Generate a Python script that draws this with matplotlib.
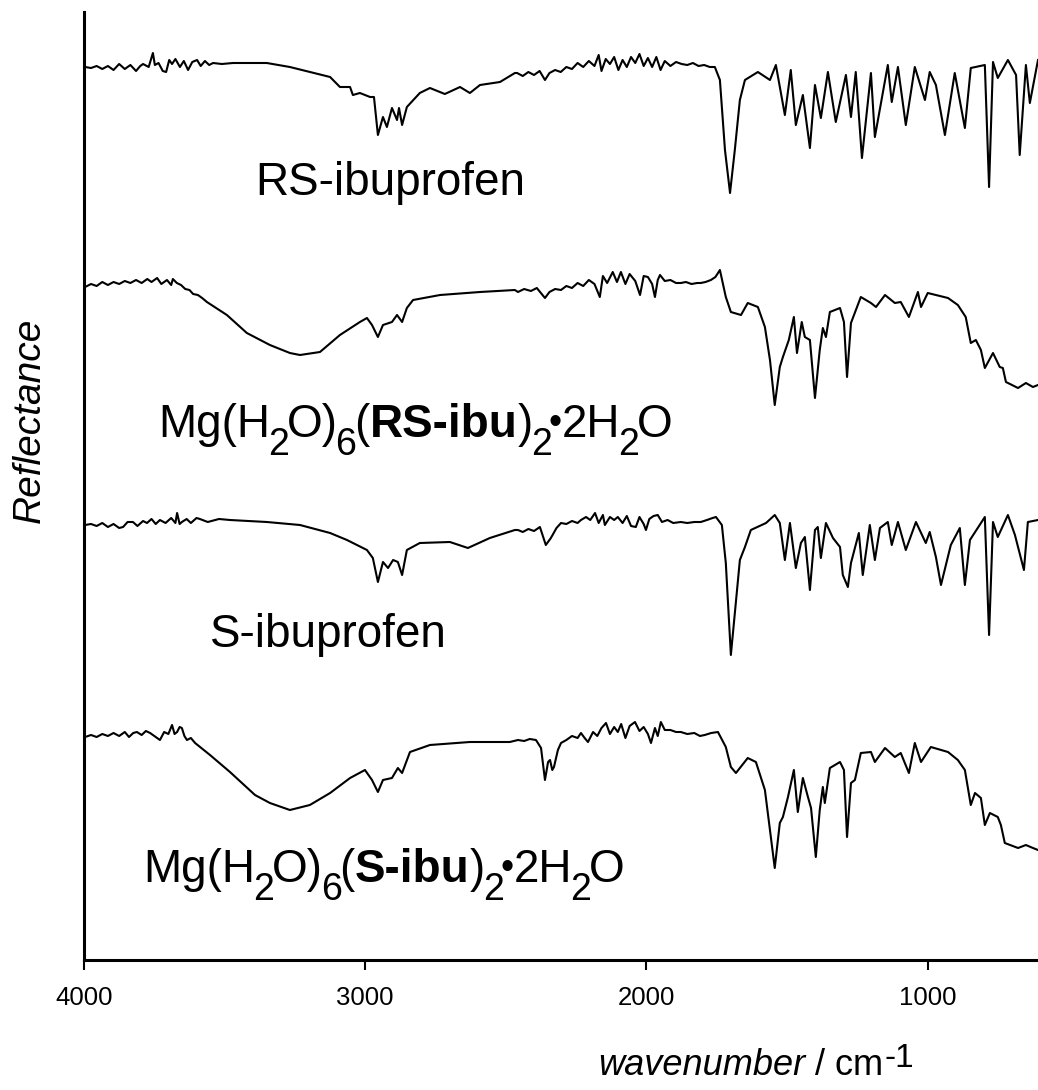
import matplotlib
matplotlib.use("Agg")
import matplotlib.pyplot as plt

plt.rcParams['font.family'] = ['Liberation Sans', 'DejaVu Sans']

# ---------------- data (wavenumber / cm-1, reflectance a.u. with vertical offsets) -------------
rs_ibu_wn = [3996, 3975, 3955, 3935, 3915, 3895, 3875, 3855, 3835, 3815, 3800, 3790, 3770, 3755,
             3748, 3735, 3720, 3708, 3697, 3687, 3675, 3659, 3645, 3630, 3615, 3598, 3585, 3570,
             3555, 3541, 3510, 3470, 3350, 3268, 3197, 3125, 3090, 3054, 3044, 3019, 2983, 2969,
             2955, 2937, 2923, 2905, 2887, 2880, 2869, 2852, 2806, 2770, 2717, 2663, 2628, 2592,
             2521, 2468, 2460, 2440, 2420, 2400, 2380, 2361, 2345, 2325, 2305, 2285, 2265, 2245,
             2225, 2205, 2185, 2170, 2160, 2145, 2130, 2115, 2100, 2085, 2070, 2055, 2040, 2025,
             2010, 1995, 1980, 1965, 1950, 1935, 1915, 1895, 1875, 1855, 1835, 1815, 1795, 1775,
             1757, 1739, 1721, 1703, 1686, 1668, 1650, 1604, 1561, 1540, 1508, 1487,
             1469, 1444, 1419, 1401, 1380, 1355, 1327, 1291, 1273, 1256, 1234, 1202, 1188, 1142,
             1128, 1106, 1078, 1046, 1010, 993, 971, 939, 904, 868, 847, 797, 782, 768, 751, 715,
             686, 673, 651, 637, 608]
rs_ibu_r = [893, 892, 894, 891, 894, 890, 896, 891, 895, 889, 894, 896, 893, 907,
            895, 897, 889, 888, 900, 896, 901, 893, 899, 890, 898, 900, 894, 899,
            895, 897, 896, 897, 897, 893, 888, 883, 873, 873, 865, 867, 863, 863,
            825, 843, 833, 852, 840, 852, 835, 853, 867, 872, 866, 873, 867, 875,
            878, 887, 887, 884, 888, 885, 889, 880, 887, 890, 888, 893, 891, 897,
            893, 899, 894, 905, 889, 901, 896, 903, 890, 900, 893, 903, 897, 906,
            894, 902, 893, 903, 890, 899, 894, 898, 896, 895, 897, 894, 895, 893,
            893, 880, 810, 767, 810, 860, 880, 888, 880, 895, 845, 890,
            835, 865, 812, 875, 842, 888, 838, 885, 843, 888, 802, 887, 823, 895,
            858, 893, 835, 893, 860, 888, 875, 825, 887, 832, 892, 895, 773, 898, 882, 900,
            885, 805, 895, 857, 900]

mg_rs_wn = [3996, 3975, 3955, 3935, 3915, 3895, 3875, 3855, 3835, 3815, 3795, 3775, 3760, 3740,
            3725, 3705, 3690, 3684, 3670, 3655, 3640, 3625, 3612, 3595, 3580, 3563, 3492, 3421,
            3339, 3268, 3232, 3161, 3090, 3019, 2994, 2976, 2955, 2937, 2905, 2887, 2869, 2852,
            2830, 2734, 2592, 2468, 2457, 2435, 2411, 2390, 2361, 2345, 2325, 2304, 2285, 2265,
            2245, 2225, 2205, 2185, 2166, 2155, 2140, 2120, 2105, 2091, 2075, 2060, 2040, 2023,
            2010, 1995, 1980, 1970, 1960, 1952, 1935, 1915, 1895, 1878, 1860, 1840, 1820, 1807,
            1790, 1771, 1755, 1739, 1718, 1700, 1664, 1640, 1604, 1579, 1561, 1544, 1526,
            1515, 1494, 1476, 1465, 1448, 1437, 1419, 1401, 1384, 1373, 1362, 1348, 1312, 1298,
            1287, 1273, 1238, 1202, 1184, 1152, 1117, 1096, 1067, 1035, 1024, 1000, 928, 893,
            865, 847, 829, 811, 797, 768, 744, 733, 722, 679, 651, 626, 608]
mg_rs_r = [673, 676, 674, 678, 675, 678, 676, 679, 677, 680, 677, 681, 678, 682,
           676, 680, 675, 681, 677, 675, 671, 670, 666, 665, 662, 658, 645, 627,
           615, 607, 605, 608, 625, 638, 642, 635, 623, 635, 638, 645, 638, 652,
           660, 665, 668, 670, 668, 671, 669, 672, 662, 668, 671, 670, 674, 672,
           677, 674, 680, 676, 663, 684, 677, 688, 678, 688, 676, 686, 679, 665,
           684, 683, 676, 663, 680, 685, 679, 680, 677, 677, 678, 676, 677, 677,
           678, 680, 683, 690, 663, 648, 645, 657, 653, 633, 600, 555, 593,
           603, 620, 643, 607, 638, 623, 620, 562, 610, 632, 623, 648, 652, 638,
           583, 637, 663, 657, 653, 665, 657, 658, 643, 668, 653, 667, 662, 655,
           643, 617, 620, 610, 592, 607, 593, 592, 578, 572, 577, 573, 575]

s_ibu_wn = [3996, 3975, 3955, 3935, 3915, 3895, 3875, 3861, 3845, 3826, 3810, 3790, 3776, 3760,
            3745, 3730, 3710, 3690, 3675, 3669, 3660, 3652, 3635, 3620, 3600, 3588, 3560, 3520,
            3481, 3350, 3232, 3125, 3065, 2994, 2973, 2955, 2937, 2919, 2901, 2884, 2869, 2852,
            2806, 2699, 2635, 2557, 2468, 2457, 2440, 2420, 2400, 2379, 2358, 2340, 2320, 2304,
            2285, 2265, 2245, 2233, 2215, 2200, 2183, 2170, 2155, 2148, 2130, 2115, 2102, 2085,
            2070, 2055, 2038, 2025, 2010, 2002, 1990, 1975, 1960, 1945, 1925, 1905, 1878, 1855,
            1830, 1807, 1785, 1765, 1753, 1732, 1718, 1700, 1686, 1668, 1650, 1629, 1575, 1544,
            1526, 1508, 1490, 1469, 1451, 1437, 1419, 1401, 1391, 1380, 1362, 1337, 1312, 1302,
            1284, 1273, 1245, 1231, 1206, 1188, 1170, 1142, 1128, 1106, 1078, 1042, 1007, 993,
            971, 953, 918, 886, 868, 850, 797, 782, 768, 751, 715, 690, 658, 644, 608]
s_ibu_r = [435, 436, 434, 437, 433, 436, 432, 433, 438, 438, 434, 439, 437, 441,
           436, 440, 437, 442, 437, 447, 436, 438, 441, 437, 442, 441, 438, 441,
           440, 438, 435, 427, 420, 410, 402, 378, 398, 392, 400, 398, 385, 410,
           417, 418, 412, 422, 430, 430, 428, 431, 429, 433, 415, 422, 432, 437,
           436, 439, 437, 440, 443, 440, 447, 437, 445, 435, 443, 440, 443, 437,
           444, 434, 433, 443, 436, 430, 441, 444, 445, 438, 440, 437, 438, 437,
           438, 438, 440, 442, 443, 435, 397, 305, 347, 400, 413, 430, 437, 445,
           437, 400, 437, 392, 417, 423, 370, 430, 433, 402, 437, 422, 413, 385,
           373, 397, 427, 385, 435, 400, 432, 438, 415, 438, 410, 438, 417, 428,
           403, 375, 415, 432, 375, 420, 443, 325, 438, 423, 445, 425, 390, 438, 440]

mg_s_wn = [3996, 3975, 3955, 3935, 3915, 3895, 3875, 3855, 3840, 3825, 3812, 3795, 3780, 3765,
           3750, 3730, 3715, 3700, 3687, 3678, 3669, 3660, 3652, 3643, 3634, 3620, 3605, 3552,
           3481, 3392, 3339, 3268, 3197, 3125, 3054, 3001, 2976, 2955, 2937, 2905, 2884, 2869,
           2841, 2770, 2628, 2486, 2457, 2435, 2415, 2393, 2375, 2361, 2350, 2343, 2335, 2329,
           2315, 2304, 2285, 2265, 2245, 2233, 2220, 2208, 2190, 2175, 2160, 2144, 2130, 2115,
           2102, 2090, 2075, 2060, 2041, 2025, 2010, 1995, 1984, 1970, 1960, 1949, 1935, 1915,
           1895, 1878, 1855, 1830, 1810, 1793, 1770, 1746, 1718, 1700, 1682, 1640, 1611, 1579,
           1561, 1544, 1526, 1515, 1497, 1476, 1462, 1444, 1426, 1415, 1398, 1384, 1373, 1366,
           1348, 1312, 1298, 1287, 1273, 1259, 1238, 1202, 1188, 1152, 1117, 1096, 1067, 1046,
           1024, 989, 928, 893, 868, 847, 832, 811, 797, 779, 751, 740, 726, 679, 651, 626, 608]
mg_s_r = [223, 225, 223, 226, 224, 227, 224, 228, 223, 227, 228, 225, 229, 227,
          224, 220, 228, 226, 235, 226, 228, 233, 232, 224, 220, 222, 217, 205,
          188, 165, 157, 150, 155, 167, 182, 190, 180, 168, 180, 182, 192, 187,
          208, 215, 218, 218, 220, 219, 221, 220, 212, 180, 198, 200, 190, 193,
          210, 217, 220, 224, 222, 227, 222, 218, 228, 224, 232, 237, 226, 233,
          228, 236, 222, 234, 238, 229, 233, 226, 217, 232, 224, 238, 230, 230,
          228, 228, 226, 227, 224, 225, 227, 228, 213, 193, 187, 202, 198, 170,
          130, 92, 137, 143, 163, 190, 148, 182, 163, 152, 103, 150, 173, 157,
          192, 198, 190, 123, 177, 180, 207, 208, 198, 212, 203, 207, 187, 217,
          198, 213, 208, 200, 190, 155, 167, 162, 135, 147, 143, 135, 117, 112, 115, 112, 110]

xticks = [4000, 3000, 2000, 1000]
xtick_labels = ['4000', '3000', '2000', '1000']

# label pieces: (text, kind): 'n' normal, 'b' bold, 's' subscript, 'd' dot, 'a' normal after subscript
label_rs_ibu = [('RS-ibuprofen', 'n')]
label_mg_rs = [('Mg(H', 'n'), ('2', 's'), ('O)', 'a'), ('6', 's'), ('(', 'a'), ('RS-ibu', 'b'),
               (')', 'n'), ('2', 's'), ('•', 'd'), ('2H', 'n'), ('2', 's'), ('O', 'a')]
label_s_ibu = [('S-ibuprofen', 'n')]
label_mg_s = [('Mg(H', 'n'), ('2', 's'), ('O)', 'a'), ('6', 's'), ('(', 'a'), ('S-ibu', 'b'),
              (')', 'n'), ('2', 's'), ('•', 'd'), ('2H', 'n'), ('2', 's'), ('O', 'a')]

# ---------------- figure ----------------
fig = plt.figure(figsize=(10.38, 10.90), dpi=100)
ax = fig.add_axes([84 / 1038, 130 / 1090, 1 - 84 / 1038, 948 / 1090])

for wn, r in [(rs_ibu_wn, rs_ibu_r), (mg_rs_wn, mg_rs_r), (s_ibu_wn, s_ibu_r), (mg_s_wn, mg_s_r)]:
    ax.plot(wn, r, color='black', lw=1.5)

ax.set_xlim(4000, 608)
ax.set_ylim(0, 948)

for s in ['top', 'right']:
    ax.spines[s].set_visible(False)
for s in ['left', 'bottom']:
    ax.spines[s].set_linewidth(2.2)

ax.set_yticks([])
ax.set_xticks(xticks)
ax.set_xticklabels(xtick_labels)
ax.tick_params(axis='x', direction='out', length=7.5, width=1.5, pad=11, labelsize=18.5)

styles = {
    'n': dict(fontsize=33, dy=0, dx=0, weight='normal'),
    'a': dict(fontsize=33, dy=0, dx=-1.5, weight='normal'),
    'b': dict(fontsize=33, dy=0, dx=0, weight='bold'),
    's': dict(fontsize=27, dy=-13, dx=-1.5, weight='normal'),
    'd': dict(fontsize=27, dy=2.5, dx=-2.0, weight='normal'),
}


def draw_pieces(axes, x, y, pieces, coords='data'):
    prev = None
    for txt, kind in pieces:
        st = styles[kind]
        if prev is None:
            prev = axes.annotate(txt, xy=(x, y), xycoords=coords, xytext=(st['dx'], st['dy']),
                                 textcoords='offset points', fontsize=st['fontsize'],
                                 fontweight=st['weight'], ha='left', va='baseline')
        else:
            prev = axes.annotate(txt, xy=(1, y), xycoords=(prev, coords),
                                 xytext=(st['dx'], st['dy']), textcoords='offset points',
                                 fontsize=st['fontsize'], fontweight=st['weight'],
                                 ha='left', va='baseline')
    return prev


label_pos = [(3392, 765), (3737, 523), (3552, 313), (3790, 78)]
for (x, y), pcs in zip(label_pos, [label_rs_ibu, label_mg_rs, label_s_ibu, label_mg_s]):
    draw_pieces(ax, x, y, pcs)

fig.text(30 / 1038, 1 - 420 / 1090, 'Reflectance', rotation=90, style='italic',
         fontsize=28, ha='center', va='center')

xl1 = fig.text(598 / 1038, 1 - 1075 / 1090, 'wavenumber', style='italic', fontsize=26,
               ha='left', va='baseline')
xl2 = ax.annotate(' / cm', xy=(1, 1 - 1075 / 1090), xycoords=(xl1, 'figure fraction'),
                  fontsize=26, ha='left', va='baseline', annotation_clip=False)
ax.annotate('-1', xy=(1, 1 - 1075 / 1090), xycoords=(xl2, 'figure fraction'),
            xytext=(1, 6), textcoords='offset points', fontsize=24, ha='left',
            va='baseline', annotation_clip=False)

fig.savefig('out.png', dpi=100)
